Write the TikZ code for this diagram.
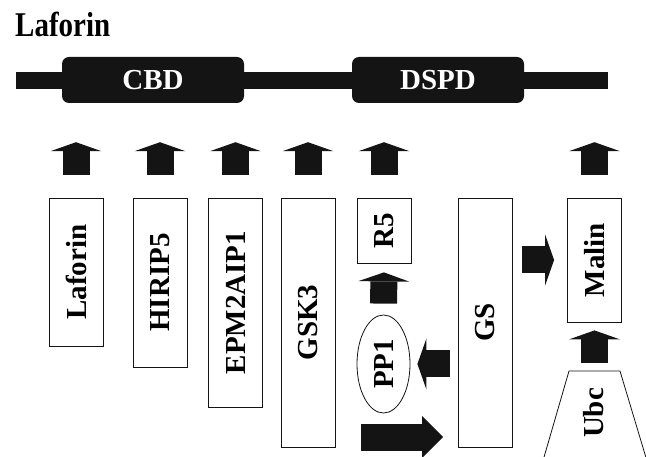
\documentclass[tikz,border=0pt]{standalone}
\usepackage{fontspec}
\setmainfont{Liberation Serif}
\usetikzlibrary{arrows.meta,positioning,shapes.geometric}
\definecolor{ink}{HTML}{141414}

\begin{document}
\begin{tikzpicture}[x=1pt, y=-1pt,
    every node/.style={font=\fontsize{29}{30}\selectfont\bfseries},
    prot/.style={draw=ink, line width=0.8pt, minimum width=54pt, inner sep=0pt},
    domainbox/.style={fill=ink, text=white, rounded corners=7pt, minimum height=46pt, inner sep=0pt},
    blkarr/.style={ink, line width=27pt, -{Triangle[width=51pt, length=9pt, line width=0pt]}},
    bigarr/.style={ink, line width=27pt, -{Triangle[width=42pt, length=21pt, line width=0pt]}}]
    \useasboundingbox (0,0) rectangle (646,457);

    % protein with its two domains
    \node[anchor=base west, inner sep=0pt, font=\fontsize{34.7}{36}\selectfont\bfseries] (title) at (15,37)
        {\scalebox{0.835}[1]{Laforin}};
    \node[fill=ink, minimum width=592pt, minimum height=17pt, inner sep=0pt] (bar) at (312,80.5) {};
    \node[domainbox, minimum width=182pt] (cbd) at (153,80) {CBD};
    \node[domainbox, minimum width=172pt] (dspd) at (438,80) {DSPD};

    % partners
    \node[prot, minimum height=148pt] (laf) at (76,272) {\rotatebox{90}{Laforin}};
    \node[prot, minimum height=169pt] (hirip) at (160,282.5) {\rotatebox{90}{HIRIP5}};
    \node[prot, minimum height=209pt] (epm) at (235.5,302.5) {\rotatebox{90}{EPM2AIP1}};
    \node[prot, minimum height=249pt] (gsk) at (308,322.5) {\rotatebox{90}{GSK3}};
    \node[prot, minimum height=65pt] (r5) at (384,230.5) {\rotatebox{90}{R5}};
    \node[prot, minimum height=249pt] (gs) at (485.5,322.5) {\rotatebox{90}{GS}};
    \node[prot, minimum height=124pt] (malin) at (594.5,260) {\rotatebox{90}{Malin}};
    \node[prot, ellipse, minimum width=53pt, minimum height=98pt] (pp1) at (383.5,364) {\rotatebox{90}{PP1}};

    \draw[ink, line width=0.8pt] (540,471) -- (569,371) -- (620,371) -- (650,471);
    \coordinate (ubctop) at (594.5,371);
    \node (ubc) at (594,413) {\rotatebox{90}{Ubc}};

    % binding to laforin
    \foreach \p in {laf,hirip,epm,gsk,r5,malin}
        \draw[blkarr, shorten <=23pt, shorten >=39pt] (\p.north) -- (\p.north |- cbd.south);

    \draw[blkarr, shorten <=11pt, shorten >=9pt] (pp1.north) -- (r5.south);
    \draw[blkarr, shorten <=8pt, shorten >=7pt] (gs.west |- pp1.east) -- (pp1.east);
    \draw[blkarr, shorten <=9pt, shorten >=13pt] (gs.east |- malin.west) -- (malin.west);
    \draw[blkarr, shorten <=8pt, shorten >=8pt] (ubctop) -- (malin.south);

    \coordinate (gsin) at (361,437);
    \draw[bigarr, shorten >=15pt] (gsin) -- (gsin -| gs.west);
\end{tikzpicture}
\end{document}
